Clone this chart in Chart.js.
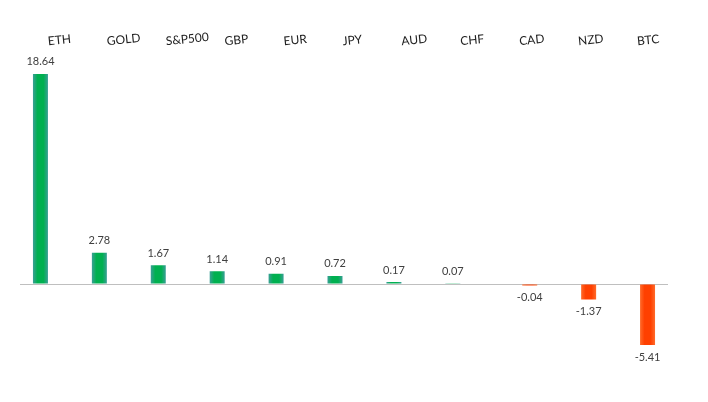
<!DOCTYPE html>
<html>
<head>
<meta charset="utf-8">
<script src="https://cdn.jsdelivr.net/npm/chart.js@4"></script>
<style>
  html, body { margin: 0; padding: 0; background: #ffffff; }
  #wrap { width: 708px; height: 402px; }
</style>
</head>
<body>
<div id="wrap"><canvas id="c" width="708" height="402"></canvas></div>
<script>
const categories = ['ETH', 'GOLD', 'S&P500', 'GBP', 'EUR', 'JPY', 'AUD', 'CHF', 'CAD', 'NZD', 'BTC'];
const gainValues = [18.64, 2.78, 1.67, 1.14, 0.91, 0.72, 0.17, 0.07, null, null, null];
const lossValues = [null, null, null, null, null, null, null, null, -0.04, -1.37, -5.41];

const CAT_PCT = 0.611;
const BAR_PCT = 0.833;
const FONT = 'Lato, "Open Sans", "DejaVu Sans", sans-serif';

function barGradient(c, edge, mid) {
  const chart = c.chart;
  const xs = chart.scales && chart.scales.x;
  if (!chart.chartArea || !xs || !xs.width) return mid;
  const center = xs.getPixelForValue(c.dataIndex);
  const cw = xs.width / categories.length;
  const slot = cw * CAT_PCT / 2;
  const bc = center + (c.datasetIndex === 0 ? -slot / 2 : slot / 2);
  const w = slot * BAR_PCT;
  const g = chart.ctx.createLinearGradient(bc - w / 2, 0, bc + w / 2, 0);
  g.addColorStop(0, edge);
  g.addColorStop(0.3, mid);
  g.addColorStop(0.7, mid);
  g.addColorStop(1, edge);
  return g;
}

const valueLabels = {
  id: 'valueLabels',
  afterDatasetsDraw(chart) {
    const ctx = chart.ctx;
    ctx.save();
    ctx.font = '11px ' + FONT;
    ctx.fillStyle = '#404040';
    ctx.textAlign = 'center';
    ctx.textBaseline = 'middle';
    chart.data.datasets.forEach((ds, di) => {
      const meta = chart.getDatasetMeta(di);
      meta.data.forEach((el, i) => {
        const v = ds.data[i];
        if (v === null || v === undefined) return;
        const y = v >= 0 ? el.y - 12 : el.y + 12;
        ctx.fillText(v.toFixed(2), el.x, y);
      });
    });
    ctx.restore();
  }
};

new Chart(document.getElementById('c'), {
  type: 'bar',
  data: {
    labels: categories,
    datasets: [
      {
        label: 'Gain',
        data: gainValues,
        backgroundColor: (c) => barGradient(c, '#3a9f96', '#00b050'),
        borderWidth: 0,
        categoryPercentage: CAT_PCT,
        barPercentage: BAR_PCT
      },
      {
        label: 'Loss',
        data: lossValues,
        backgroundColor: (c) => barGradient(c, '#ff6a2a', '#ff4000'),
        borderWidth: 0,
        minBarLength: 1.5,
        categoryPercentage: CAT_PCT,
        barPercentage: BAR_PCT
      }
    ]
  },
  options: {
    responsive: false,
    animation: false,
    layout: { padding: { left: 20, right: 40, top: 28.6, bottom: 27.8 } },
    plugins: {
      legend: { display: false },
      tooltip: { enabled: false }
    },
    scales: {
      x: {
        position: 'top',
        grid: { display: false, drawTicks: false },
        border: { display: false },
        ticks: {
          autoSkip: false,
          minRotation: 6,
          maxRotation: 6,
          padding: 10,
          color: '#222222',
          font: { family: FONT, size: 12 }
        },
        afterFit(scale) { scale.height = 30; }
      },
      y: {
        min: -8,
        max: 20,
        grid: {
          drawTicks: false,
          color: (c) => (c.tick && c.tick.value === 0 ? '#bfbfbf' : 'rgba(0,0,0,0)'),
          lineWidth: 1
        },
        border: { display: false },
        ticks: { display: false, stepSize: 2 }
      }
    }
  },
  plugins: [valueLabels]
});
</script>
</body>
</html>
